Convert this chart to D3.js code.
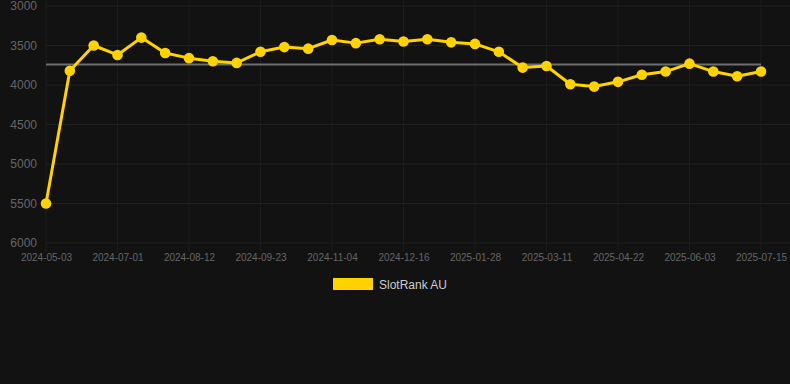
<!doctype html>
<html lang="en">
<head>
    <meta charset="UTF-8">
    <title>SlotRank AU</title>
    <script src="https://cdn.jsdelivr.net/npm/d3@7"></script>
    <style>
        body { margin: 0; background: #121212; }
    </style>
</head>
<body>
<svg width="790" height="384"></svg>
</body>
<script>

    let dates = ["2024-05-03", "2024-06-03", "2024-06-17", "2024-07-01", "2024-07-15", "2024-07-29",
        "2024-08-12", "2024-08-26", "2024-09-09", "2024-09-23", "2024-10-07", "2024-10-21",
        "2024-11-04", "2024-11-18", "2024-12-02", "2024-12-16", "2024-12-30", "2025-01-13",
        "2025-01-28", "2025-02-11", "2025-02-25", "2025-03-11", "2025-03-25", "2025-04-08",
        "2025-04-22", "2025-05-06", "2025-05-20", "2025-06-03", "2025-06-17", "2025-07-01",
        "2025-07-15"];
    let rank = [5500, 3820, 3500, 3620, 3400, 3595, 3660, 3700, 3720, 3580, 3520, 3540,
        3430, 3470, 3420, 3450, 3420, 3460, 3480, 3580, 3780, 3760, 3990, 4020,
        3960, 3870, 3830, 3730, 3830, 3890, 3830];
    let yTicks = [3000, 3500, 4000, 4500, 5000, 5500, 6000];
    let xTickLabels = ["2024-05-03", "2024-07-01", "2024-08-12", "2024-09-23", "2024-11-04", "2024-12-16",
        "2025-01-28", "2025-03-11", "2025-04-22", "2025-06-03", "2025-07-15"];
    let avgLine = 3740;
    let seriesName = "SlotRank AU";

    let grid = {left: 46, right: 29, top: 6, bottom: 141};
    let svg = d3.select("svg");
    let width = +svg.attr("width"), height = +svg.attr("height");
    let innerW = width - grid.left - grid.right, innerH = height - grid.top - grid.bottom;

    let gold = "#ffd200";
    let font = "Liberation Sans, Arial, sans-serif";

    let xScale = d3.scalePoint().domain(dates).range([0, innerW]);
    let yScale = d3.scaleLinear().domain([3000, 6000]).range([0, innerH]);

    let g = svg.append("g").attr("transform", "translate(" + grid.left + "," + grid.top + ")");

    // grid lines
    g.append("g").selectAll("line").data(yTicks).enter().append("line")
        .attr("x1", 0).attr("x2", width - grid.left)
        .attr("y1", d => yScale(d)).attr("y2", d => yScale(d))
        .attr("stroke", "#202020").attr("stroke-width", 1);
    g.append("g").selectAll("line").data(xTickLabels).enter().append("line")
        .attr("x1", d => xScale(d)).attr("x2", d => xScale(d))
        .attr("y1", -grid.top).attr("y2", innerH + 9)
        .attr("stroke", "#1c1c1c").attr("stroke-width", 1);

    let yAxis = d3.axisLeft(yScale).tickValues(yTicks).tickSize(0).tickPadding(9).tickFormat(d => d);
    g.append("g").call(yAxis)
        .call(a => a.select(".domain").remove())
        .selectAll("text")
        .attr("fill", "#666").style("font-family", font).style("font-size", "12px");

    let xAxis = d3.axisBottom(xScale).tickValues(xTickLabels).tickSize(0).tickPadding(11);
    g.append("g").attr("transform", "translate(0," + innerH + ")").call(xAxis)
        .call(a => a.select(".domain").remove())
        .selectAll("text")
        .attr("fill", "#666").style("font-family", font).style("font-size", "10px");

    // average line
    g.append("line")
        .attr("x1", 0).attr("x2", innerW)
        .attr("y1", yScale(avgLine)).attr("y2", yScale(avgLine))
        .attr("stroke", "#6e6e6e").attr("stroke-width", 2);

    let line = d3.line().x((d, i) => xScale(dates[i])).y(d => yScale(d));
    g.append("path").datum(rank)
        .attr("d", line)
        .attr("fill", "none").attr("stroke", gold).attr("stroke-width", 3)
        .attr("stroke-linejoin", "round");

    g.selectAll(".pt").data(rank).enter().append("circle")
        .attr("class", "pt")
        .attr("cx", (d, i) => xScale(dates[i]))
        .attr("cy", d => yScale(d))
        .attr("r", 5.3)
        .attr("fill", gold);

    // legend
    let legend = svg.append("g").attr("transform", "translate(333,278)");
    legend.append("rect").attr("width", 40).attr("height", 12).attr("fill", gold);
    legend.append("text").attr("x", 46).attr("y", 10.5)
        .text(seriesName)
        .attr("fill", "#ccc").style("font-family", font).style("font-size", "12px");

</script>
</html>
